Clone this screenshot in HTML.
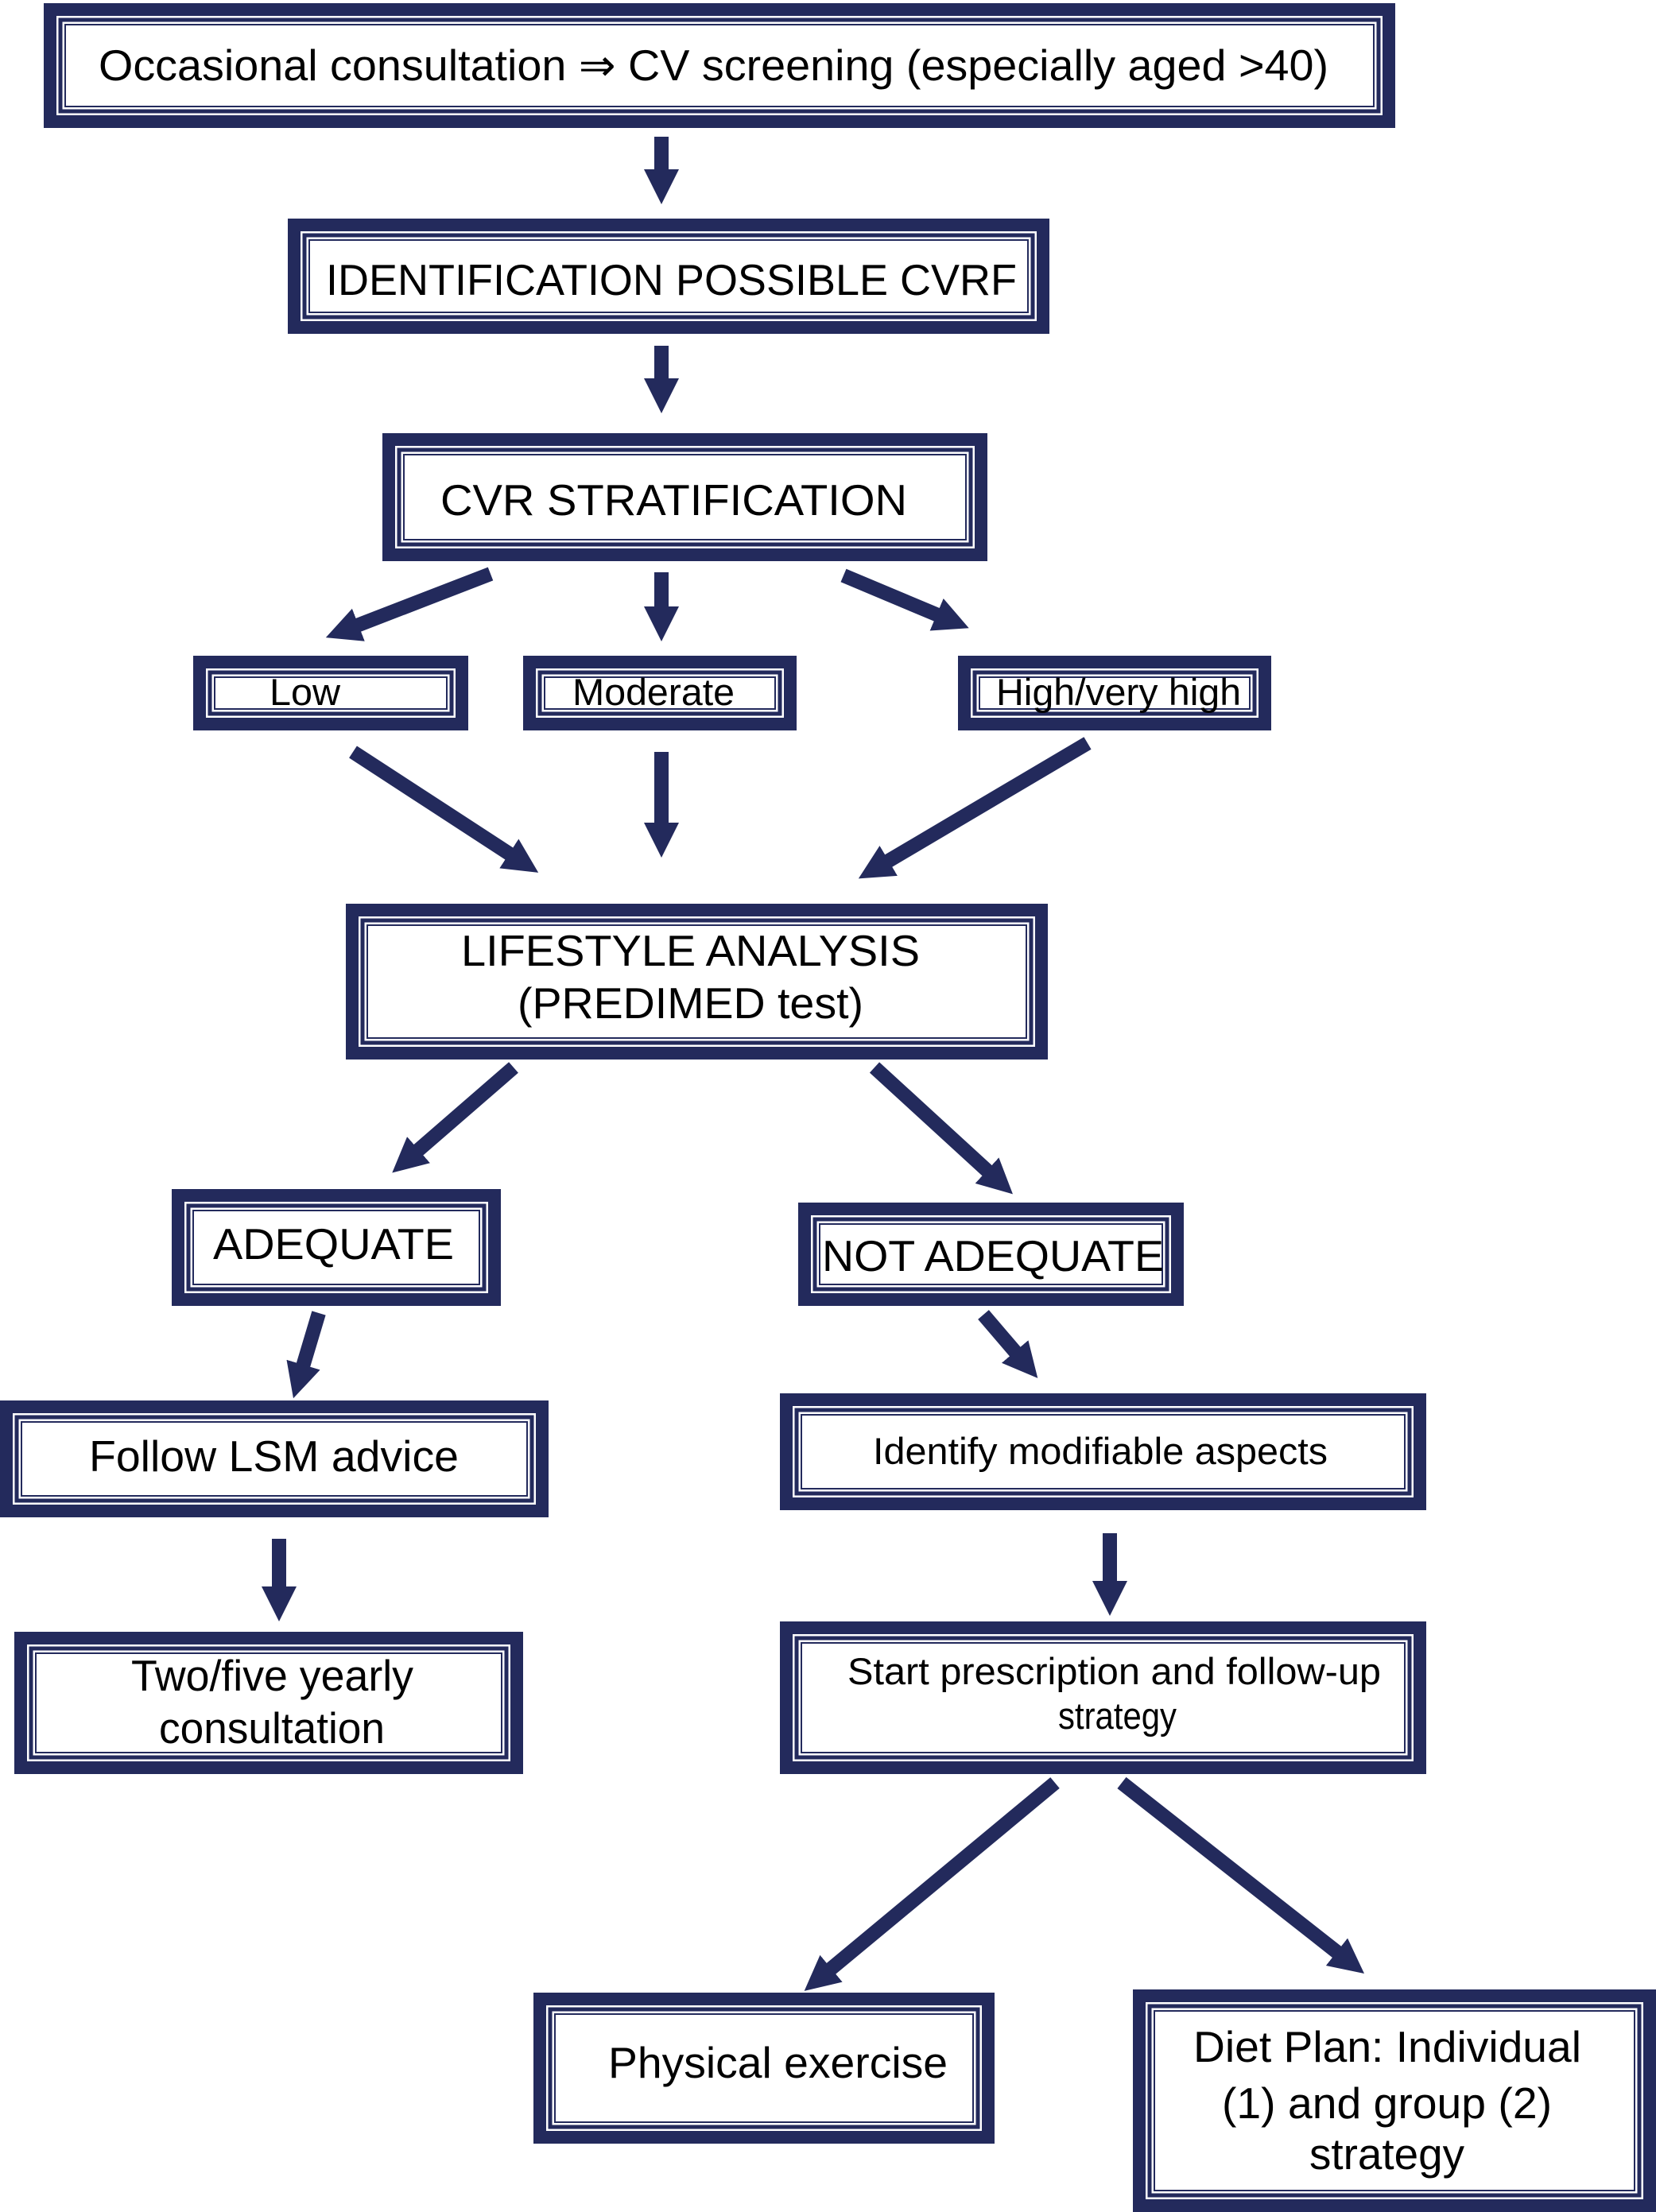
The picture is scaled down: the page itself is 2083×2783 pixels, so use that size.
<!DOCTYPE html>
<html><head><meta charset="utf-8"><style>
html,body{margin:0;padding:0;background:#fff;}
svg{display:block;}
text{font-family:"Liberation Sans",sans-serif;fill:#000;}
</style></head><body>
<svg width="2083" height="2783" viewBox="0 0 2083 2783" xmlns="http://www.w3.org/2000/svg">
<defs>
<marker id="ah" markerUnits="userSpaceOnUse" markerWidth="50" markerHeight="50" viewBox="0 -25 50 50" refX="2" refY="0" orient="auto">
<path d="M0,-22 L44,0 L0,22 z" fill="#232a5c"/>
</marker>
</defs>
<g fill="none" stroke="#232a5c">
<!-- boxes: outer thick, inner double -->
<g id="boxes">
</g>
</g>
<g fill="none" stroke="#232a5c">
<!-- box1 -->
<rect x="63" y="12" width="1684" height="141" stroke-width="16"/><rect x="76" y="25" width="1658" height="115" stroke-width="5"/><rect x="82" y="31" width="1646" height="103" stroke-width="2"/>
<!-- box2 -->
<rect x="370" y="283" width="942" height="129" stroke-width="16"/><rect x="383" y="296" width="916" height="103" stroke-width="5"/><rect x="389" y="302" width="904" height="91" stroke-width="2"/>
<!-- box3 -->
<rect x="489" y="553" width="745" height="145" stroke-width="16"/><rect x="502" y="566" width="719" height="119" stroke-width="5"/><rect x="508" y="572" width="707" height="107" stroke-width="2"/>
<!-- low -->
<rect x="251" y="833" width="330" height="78" stroke-width="16"/><rect x="264" y="846" width="304" height="52" stroke-width="5"/><rect x="270" y="852" width="292" height="40" stroke-width="2"/>
<!-- moderate -->
<rect x="666" y="833" width="328" height="78" stroke-width="16"/><rect x="679" y="846" width="302" height="52" stroke-width="5"/><rect x="685" y="852" width="290" height="40" stroke-width="2"/>
<!-- high -->
<rect x="1213" y="833" width="378" height="78" stroke-width="16"/><rect x="1226" y="846" width="352" height="52" stroke-width="5"/><rect x="1232" y="852" width="340" height="40" stroke-width="2"/>
<!-- lifestyle -->
<rect x="443" y="1145" width="867" height="180" stroke-width="16"/><rect x="456" y="1158" width="841" height="154" stroke-width="5"/><rect x="462" y="1164" width="829" height="142" stroke-width="2"/>
<!-- adequate -->
<rect x="224" y="1504" width="398" height="131" stroke-width="16"/><rect x="237" y="1517" width="372" height="105" stroke-width="5"/><rect x="243" y="1523" width="360" height="93" stroke-width="2"/>
<!-- not adequate -->
<rect x="1012" y="1521" width="469" height="114" stroke-width="16"/><rect x="1025" y="1534" width="443" height="88" stroke-width="5"/><rect x="1031" y="1540" width="431" height="76" stroke-width="2"/>
<!-- follow -->
<rect x="8" y="1770" width="674" height="131" stroke-width="16"/><rect x="21" y="1783" width="648" height="105" stroke-width="5"/><rect x="27" y="1789" width="636" height="93" stroke-width="2"/>
<!-- identify -->
<rect x="989" y="1761" width="797" height="131" stroke-width="16"/><rect x="1002" y="1774" width="771" height="105" stroke-width="5"/><rect x="1008" y="1780" width="759" height="93" stroke-width="2"/>
<!-- two/five -->
<rect x="26" y="2061" width="624" height="163" stroke-width="16"/><rect x="39" y="2074" width="598" height="137" stroke-width="5"/><rect x="45" y="2080" width="586" height="125" stroke-width="2"/>
<!-- start -->
<rect x="989" y="2048" width="797" height="176" stroke-width="16"/><rect x="1002" y="2061" width="771" height="150" stroke-width="5"/><rect x="1008" y="2067" width="759" height="138" stroke-width="2"/>
<!-- physical -->
<rect x="679" y="2515" width="564" height="174" stroke-width="16"/><rect x="692" y="2528" width="538" height="148" stroke-width="5"/><rect x="698" y="2534" width="526" height="136" stroke-width="2"/>
<!-- diet -->
<rect x="1433" y="2511" width="642" height="264" stroke-width="16"/><rect x="1446" y="2524" width="616" height="238" stroke-width="5"/><rect x="1452" y="2530" width="604" height="226" stroke-width="2"/>
</g>
<g stroke="#232a5c" stroke-width="18" marker-end="url(#ah)" fill="none">
<line x1="832" y1="172" x2="832" y2="215"/>
<line x1="832" y1="435" x2="832" y2="478"/>
<line x1="617" y1="722" x2="449" y2="787"/>
<line x1="832" y1="720" x2="832" y2="765"/>
<line x1="1061" y1="724" x2="1180" y2="774"/>
<line x1="444" y1="946" x2="642" y2="1075"/>
<line x1="832" y1="946" x2="832" y2="1037"/>
<line x1="1368" y1="935" x2="1116" y2="1084"/>
<line x1="646" y1="1343" x2="525" y2="1448"/>
<line x1="1100" y1="1343" x2="1243" y2="1474"/>
<line x1="401" y1="1652" x2="381" y2="1719"/>
<line x1="1237" y1="1654" x2="1278" y2="1702"/>
<line x1="351" y1="1936" x2="351" y2="1998"/>
<line x1="1396" y1="1929" x2="1396" y2="1991"/>
<line x1="1327" y1="2243" x2="1044" y2="2478"/>
<line x1="1411" y1="2243" x2="1683" y2="2457"/>
</g>
<g lengthAdjust="spacingAndGlyphs">
<text x="124" y="101" font-size="55" textLength="1547" lengthAdjust="spacingAndGlyphs">Occasional consultation ⇒ CV screening (especially aged &gt;40)</text>
<text x="410" y="371" font-size="55" textLength="869" lengthAdjust="spacingAndGlyphs">IDENTIFICATION POSSIBLE CVRF</text>
<text x="554" y="648" font-size="55" textLength="587" lengthAdjust="spacingAndGlyphs">CVR STRATIFICATION</text>
<text x="339" y="887" font-size="47" textLength="89" lengthAdjust="spacingAndGlyphs">Low</text>
<text x="720" y="887" font-size="47" textLength="204" lengthAdjust="spacingAndGlyphs">Moderate</text>
<text x="1253" y="887" font-size="47" textLength="308" lengthAdjust="spacingAndGlyphs">High/very high</text>
<text x="580" y="1215" font-size="55" textLength="577" lengthAdjust="spacingAndGlyphs">LIFESTYLE ANALYSIS</text>
<text x="651" y="1281" font-size="55" textLength="435" lengthAdjust="spacingAndGlyphs">(PREDIMED test)</text>
<text x="268" y="1584" font-size="55" textLength="303" lengthAdjust="spacingAndGlyphs">ADEQUATE</text>
<text x="1034" y="1599" font-size="55" textLength="430" lengthAdjust="spacingAndGlyphs">NOT ADEQUATE</text>
<text x="112" y="1851" font-size="55" textLength="465" lengthAdjust="spacingAndGlyphs">Follow LSM advice</text>
<text x="1098" y="1842" font-size="47" textLength="572" lengthAdjust="spacingAndGlyphs">Identify modifiable aspects</text>
<text x="165" y="2127" font-size="55" textLength="355" lengthAdjust="spacingAndGlyphs">Two/five yearly</text>
<text x="200" y="2193" font-size="55" textLength="284" lengthAdjust="spacingAndGlyphs">consultation</text>
<text x="1066" y="2119" font-size="47" textLength="671" lengthAdjust="spacingAndGlyphs">Start prescription and follow-up</text>
<text x="1331" y="2175" font-size="47" textLength="149" lengthAdjust="spacingAndGlyphs">strategy</text>
<text x="765" y="2614" font-size="55" textLength="427" lengthAdjust="spacingAndGlyphs">Physical exercise</text>
<text x="1501" y="2594" font-size="55" textLength="488" lengthAdjust="spacingAndGlyphs">Diet Plan: Individual</text>
<text x="1537" y="2665" font-size="55" textLength="415" lengthAdjust="spacingAndGlyphs">(1) and group (2)</text>
<text x="1647" y="2729" font-size="55" textLength="195" lengthAdjust="spacingAndGlyphs">strategy</text>
</g>
</svg>
</body></html>
